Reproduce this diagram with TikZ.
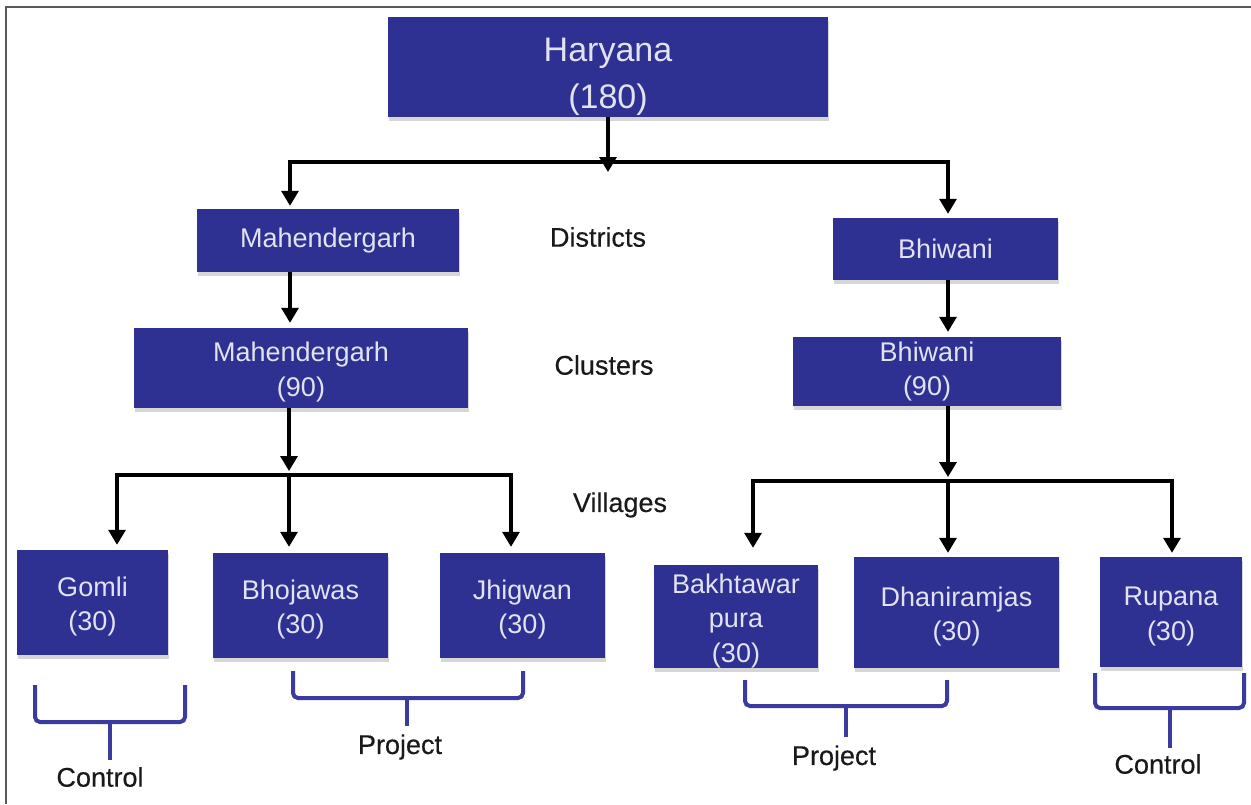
\documentclass[tikz,border=0pt]{standalone}
\usepackage{fontspec}
\setmainfont{Liberation Sans}
\newfontface\lblface{Liberation Sans}[FakeBold=0.35]
\newcommand{\bxup}{\rule{0pt}{28pt}}
\newcommand{\bxtop}{\rule{0pt}{43pt}}
\usetikzlibrary{arrows.meta,shadows}
\definecolor{boxblue}{HTML}{2E3192}
\definecolor{boxtxt}{HTML}{E2E2F2}
\definecolor{brk}{HTML}{3B3A9E}
\begin{document}
\begin{tikzpicture}[x=1pt,y=-1pt,
  box/.style={draw=none, fill=boxblue, text=boxtxt, align=center, inner sep=0pt,
    font=\fontsize{27}{34.5}\selectfont,
    drop shadow={shadow xshift=1pt, shadow yshift=-4pt, fill=black!35, opacity=0.45}},
  lbl/.style={font=\lblface\fontsize{27}{33}\selectfont, text=black!90},
  arr/.style={line width=3.2pt, line join=miter, -{Triangle[width=17pt,length=15pt]}},
  brack/.style={draw=brk, line width=4pt, rounded corners=5pt}]
\useasboundingbox (0,0) rectangle (1251,804);
\fill[white] (0,0) rectangle (1251,804);
\draw[line width=1.6pt, black!65] (6,804) -- (6,7) -- (1251,7);

% boxes
\node[box, minimum width=440pt, minimum height=100pt, font=\fontsize{34}{47}\selectfont] (har) at (608,67) {\bxtop Haryana\\(180)};
\node[box, minimum width=262pt, minimum height=63pt] (mdist) at (328,240.5) {Mahendergarh};
\node[box, minimum width=334pt, minimum height=80pt] (mclus) at (301,368) {\bxup Mahendergarh\\(90)};
\node[box, minimum width=225pt, minimum height=62pt] (bdist) at (945.5,249) {Bhiwani};
\node[box, minimum width=268pt, minimum height=69pt] (bclus) at (927,371.5) {Bhiwani\\(90)};
\node[box, minimum width=151pt, minimum height=105pt] (gomli) at (92.5,602.5) {\bxup Gomli\\(30)};
\node[box, minimum width=175pt, minimum height=105pt] (bhoj) at (300.5,605.5) {\bxup Bhojawas\\(30)};
\node[box, minimum width=165pt, minimum height=105pt] (jhig) at (522.5,605.5) {\bxup Jhigwan\\(30)};
\node[box, minimum width=164pt, minimum height=103pt] (bakh) at (736,616.5) {\bxup Bakhtawar\\pura\\(30)};
\node[box, minimum width=205pt, minimum height=111pt] (dhan) at (956.5,612.5) {\bxup Dhaniramjas\\(30)};
\node[box, minimum width=142pt, minimum height=110pt] (rup) at (1171,612) {\bxup Rupana\\(30)};

% level labels
\node[lbl] (ldist) at (598,237) {Districts};
\node[lbl] (lclus) at (604,365) {Clusters};
\node[lbl] (lvill) at (620,505) {Villages};

% top connectors
\coordinate (t1) at (608,162);
\coordinate (t1tip) at (608,172);
\coordinate (t1l) at (290,162);
\coordinate (t1r) at (948,162);
\draw[arr] (har.south) -- (t1tip);
\draw[arr, shorten >=3pt] (t1) -- (t1l) -- (t1l |- mdist.north);
\draw[arr, shorten >=4pt] (t1) -- (t1r) -- (t1r |- bdist.north);
\draw[arr, shorten >=5pt] (t1l |- mdist.south) -- (t1l |- mclus.north);
\draw[arr, shorten >=5pt] (t1r |- bdist.south) -- (t1r |- bclus.north);

% left village connectors
\coordinate (m2) at (289,475);
\coordinate (m2l) at (117,475);
\coordinate (m2r) at (511,475);
\draw[arr, shorten >=4pt] (m2 |- mclus.south) -- (m2);
\draw[arr, shorten >=5pt] (m2) -- (m2l) -- (m2l |- gomli.north);
\draw[arr, shorten >=6pt] (m2) -- (m2 |- bhoj.north);
\draw[arr, shorten >=6pt] (m2) -- (m2r) -- (m2r |- jhig.north);

% right village connectors
\coordinate (r2) at (948,481);
\coordinate (r2l) at (753,481);
\coordinate (r2r) at (1172,481);
\draw[arr, shorten >=4pt] (r2 |- bclus.south) -- (r2);
\draw[arr, shorten >=17pt] (r2) -- (r2l) -- (r2l |- bakh.north);
\draw[arr, shorten >=4pt] (r2) -- (r2 |- dhan.north);
\draw[arr, shorten >=4pt] (r2) -- (r2r) -- (r2r |- rup.north);

% brackets
\coordinate (c1a) at (35,685);  \coordinate (c1b) at (185,685);
\coordinate (c1m) at (110,722); \coordinate (c1s) at (110,760);
\draw[brack] (c1a) -- (c1a |- c1m) -- (c1b |- c1m) -- (c1b);
\draw[brack] (c1m) -- (c1s);
\node[lbl] (ctl1) at (100,777) {Control};

\coordinate (p1a) at (293,671); \coordinate (p1b) at (523,671);
\coordinate (p1m) at (407,698); \coordinate (p1s) at (407,726);
\draw[brack] (p1a) -- (p1a |- p1m) -- (p1b |- p1m) -- (p1b);
\draw[brack] (p1m) -- (p1s);
\node[lbl] (prj1) at (400,747) {Project};

\coordinate (p2a) at (745,680); \coordinate (p2b) at (947,680);
\coordinate (p2m) at (846,706); \coordinate (p2s) at (846,737);
\draw[brack] (p2a) -- (p2a |- p2m) -- (p2b |- p2m) -- (p2b);
\draw[brack] (p2m) -- (p2s);
\node[lbl] (prj2) at (834,758) {Project};

\coordinate (c2a) at (1095,673); \coordinate (c2b) at (1244,673);
\coordinate (c2m) at (1170,708); \coordinate (c2s) at (1170,748);
\draw[brack] (c2a) -- (c2a |- c2m) -- (c2b |- c2m) -- (c2b);
\draw[brack] (c2m) -- (c2s);
\node[lbl] (ctl2) at (1158,764) {Control};
\end{tikzpicture}
\end{document}
